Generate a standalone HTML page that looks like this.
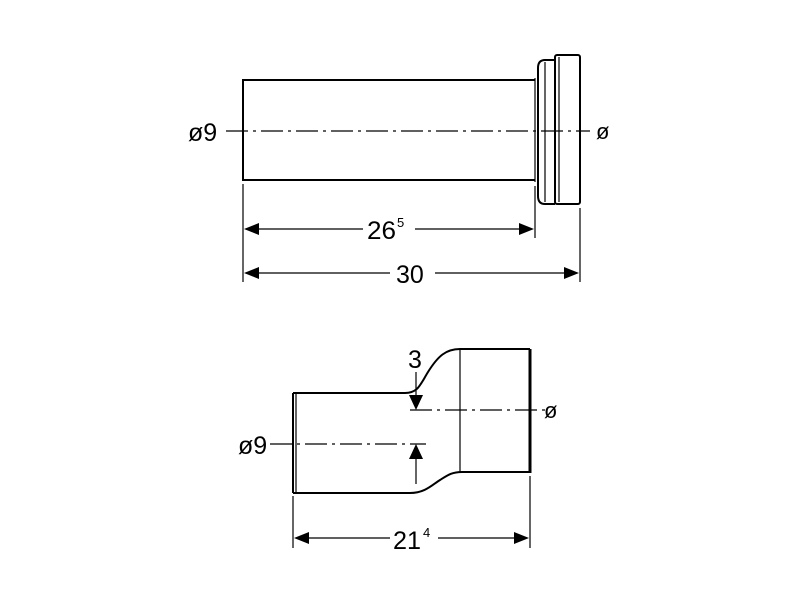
<!DOCTYPE html>
<html><head><style>html,body{margin:0;padding:0;background:#fff}svg{display:block}</style></head>
<body>
<svg width="800" height="600" viewBox="0 0 800 600" xmlns="http://www.w3.org/2000/svg" font-family="Liberation Sans, sans-serif">
<g fill="none" stroke="#000" stroke-width="2">
<path d="M535 80 H243 V180 H535"/>
<path d="M535 78 V182" stroke-width="1.2"/>
<path d="M555 60 H545 Q538 60 538 68 V196 Q538 204 545 204 H555"/>
<path d="M545 62 V202" stroke-width="1.2"/>
<rect x="555" y="55" width="25" height="149" rx="2"/>
<path d="M559 57 V202" stroke-width="1.2"/>
</g>
<g stroke="#000" stroke-width="1.2" fill="none">
<line x1="226" y1="131" x2="590" y2="131" stroke-dasharray="22,5,3,5"/>
<line x1="243" y1="184" x2="243" y2="282"/>
<line x1="535" y1="186" x2="535" y2="238"/>
<line x1="580" y1="208" x2="580" y2="282"/>
<line x1="258" y1="229" x2="363" y2="229"/>
<line x1="415" y1="229" x2="520" y2="229"/>
<line x1="258" y1="273" x2="390" y2="273"/>
<line x1="435" y1="273" x2="565" y2="273"/>
</g>
<g fill="#000">
<polygon points="244,229 259,223 259,235"/>
<polygon points="534,229 519,223 519,235"/>
<polygon points="244,273 259,267 259,279"/>
<polygon points="579,273 564,267 564,279"/>
</g>
<text x="188" y="141" font-size="25">ø9</text>
<text x="596" y="139" font-size="22">ø</text>
<text x="367" y="239" font-size="25" textLength="29" lengthAdjust="spacingAndGlyphs">26</text>
<text x="397" y="227" font-size="13">5</text>
<text x="396" y="283" font-size="25">30</text>

<g fill="none" stroke="#000" stroke-width="2">
<path d="M293 393 H405 C418 393 420 385 428 372 C438 356 446 349 460 349 H530 M293 493 H410 C425 493 432 485 440 480 C448 475 452 472 462 472 H530"/>
<path d="M293 393 V493"/>
<path d="M530 349 V473" stroke-width="3"/>
</g>
<g stroke="#000" stroke-width="1.2" fill="none">
<line x1="460" y1="350" x2="460" y2="472"/>
<line x1="296" y1="394" x2="296" y2="492"/>
<line x1="410" y1="410" x2="546" y2="410" stroke-dasharray="22,5,3,5"/>
<line x1="270" y1="444" x2="426" y2="444" stroke-dasharray="22,5,3,5"/>
<line x1="416" y1="372" x2="416" y2="396"/>
<line x1="416" y1="458" x2="416" y2="484"/>
<line x1="293" y1="496" x2="293" y2="548"/>
<line x1="530" y1="476" x2="530" y2="548"/>
<line x1="308" y1="538" x2="390" y2="538"/>
<line x1="438" y1="538" x2="515" y2="538"/>
</g>
<g fill="#000">
<polygon points="416,410 409,395 423,395"/>
<polygon points="416,444 409,459 423,459"/>
<polygon points="294,538 309,532 309,544"/>
<polygon points="529,538 514,532 514,544"/>
</g>
<text x="408" y="368" font-size="25">3</text>
<text x="238" y="454" font-size="25">ø9</text>
<text x="544" y="418" font-size="22">ø</text>
<text x="393" y="549" font-size="25" textLength="28" lengthAdjust="spacingAndGlyphs">21</text>
<text x="423" y="537" font-size="13">4</text>
</svg>
</body></html>
